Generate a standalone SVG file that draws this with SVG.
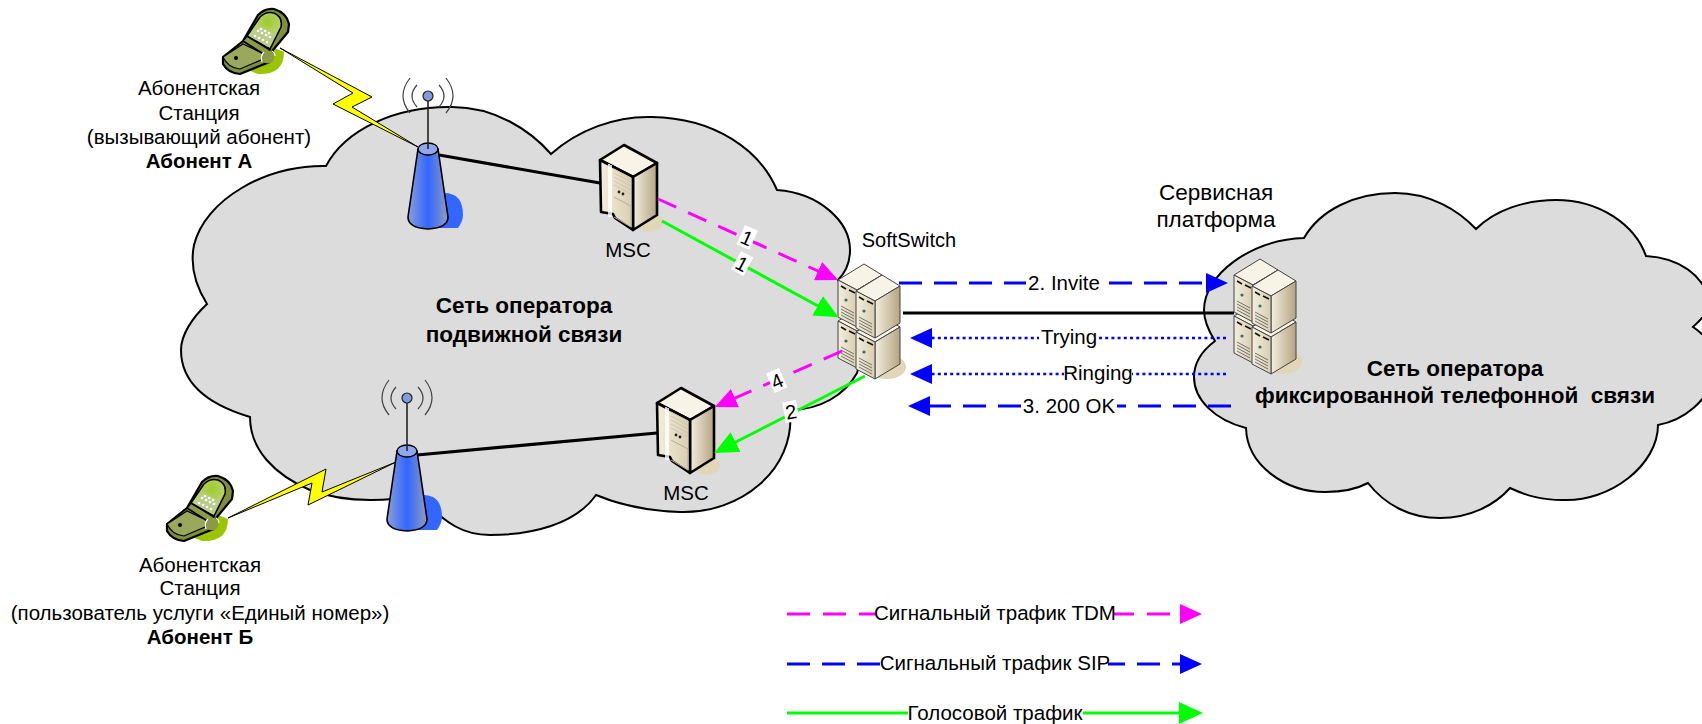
<svg xmlns="http://www.w3.org/2000/svg" width="1702" height="724" viewBox="0 0 1702 724">
<style>
text{font-family:"Liberation Sans",Arial,sans-serif;fill:#000;font-size:20.5px;text-anchor:middle;white-space:pre}
.b{font-weight:bold}
.t{font-size:22.5px}
.s{font-size:20px}
.cloud{fill:#dcdcdc;stroke:#000;stroke-width:2}
.wire{stroke:#000;stroke-width:3.2;fill:none}
.mag{stroke:#f0f;stroke-width:3;fill:none;stroke-dasharray:20 13}
.blu{stroke:#00f;stroke-width:3;fill:none;stroke-dasharray:23 12}
.dot{stroke:#00f;stroke-width:2.7;fill:none;stroke-dasharray:3 3.2}
.grn{stroke:#0f0;stroke-width:3;fill:none}
.bolt{fill:#ff0;stroke:#000;stroke-width:1}
.wave{fill:none;stroke:#444;stroke-width:1.2}
.srv{stroke:#000;stroke-width:2.6;stroke-linejoin:round}
.u{stroke:#444;stroke-width:1;stroke-linejoin:round}
.lbl{fill:#fff}
</style>
<defs>
<linearGradient id="twr" x1="0" x2="1" y1="0" y2="0"><stop offset="0" stop-color="#8a9fd8"/><stop offset=".5" stop-color="#3366ff"/><stop offset="1" stop-color="#8f9cc0"/></linearGradient>
<linearGradient id="sf" x1="0" x2="1" y1="0" y2="0"><stop offset="0" stop-color="#f4eedd"/><stop offset="1" stop-color="#d8cdb0"/></linearGradient>
<linearGradient id="sr" x1="0" x2="1" y1="0" y2="0"><stop offset="0" stop-color="#f3eee0"/><stop offset="1" stop-color="#b5a481"/></linearGradient>
<radialGradient id="scr" cx=".6" cy=".25" r=".55"><stop offset="0" stop-color="#9fcc2a"/><stop offset="1" stop-color="#bfd58a"/></radialGradient>
<marker id="am" markerUnits="userSpaceOnUse" markerWidth="22" markerHeight="20" refX="12" refY="10" orient="auto"><path d="M0,0L22,10L0,20Z" fill="#f0f"/></marker>
<marker id="ab" markerUnits="userSpaceOnUse" markerWidth="22" markerHeight="20" refX="12" refY="10" orient="auto"><path d="M0,0L22,10L0,20Z" fill="#00f"/></marker>
<marker id="ag" markerUnits="userSpaceOnUse" markerWidth="24" markerHeight="22" refX="13" refY="11" orient="auto"><path d="M0,0L24,11L0,22Z" fill="#0f0"/></marker>
<g id="phone">
<path d="M68,74Q94,75 94,52L84,48L58,70Z" fill="#9cc400"/>
<path d="M33,57L53,41L68,15Q75,8 84,9Q97,13 99,24L98,32L83,50L80,62L72,65L50,74Q38,73 33,64Z" fill="#7f8f3c" stroke="#000" stroke-width="2.2" stroke-linejoin="round"/>
<path d="M33,57L53,44L74,54L71,60L50,69Q38,68 33,57Z" fill="#9aa85c" stroke="#000" stroke-width="1.2"/>
<path d="M53,41L57,36L80,50L75,55Z" fill="#8c9a48" stroke="#000" stroke-width="1.6"/>
<path d="M57,36L70,17Q76,11 84,13Q93,17 91,27L80,49Z" fill="url(#scr)" stroke="#000" stroke-width="1.6"/>
<path d="M62,37L69,25L86,35L78,47Z" fill="#b9cc8a"/>
<g fill="#fff"><circle cx="68" cy="31" r="1.3"/><circle cx="72" cy="33" r="1.3"/><circle cx="76" cy="35" r="1.3"/><circle cx="80" cy="37" r="1.3"/><circle cx="65" cy="36" r="1.3"/><circle cx="69" cy="38" r="1.3"/><circle cx="73" cy="40" r="1.3"/><circle cx="77" cy="42" r="1.3"/><circle cx="71" cy="29" r="1.3"/><circle cx="75" cy="31" r="1.3"/><circle cx="79" cy="33" r="1.3"/></g>
<circle cx="46" cy="58" r="2" fill="#000"/>
<circle cx="78" cy="57" r="6.5" fill="#8c9a48"/>
<path d="M72,62Q70,56 74,52M82,51Q85,53 85,56" fill="none" stroke="#fff" stroke-width="1.2"/>
</g>
<g id="tower">
<path d="M16,44Q35,44 35,66Q35,72 30,79L10,79Z" fill="#3366ff"/>
<path d="M-10,0L-20,68Q-20,79 0,80Q20,79 20,68L10,0Z" fill="url(#twr)" stroke="#000" stroke-width="1.6"/>
<ellipse cx="0" cy="0" rx="10" ry="6" fill="#8fa8ec" stroke="#000" stroke-width="1.4"/>
<path d="M0,0V-48" stroke="#222" stroke-width="1.6"/>
<circle cx="0" cy="-53" r="5" fill="#7f9ce0" stroke="#222" stroke-width="1.2"/>
<path class="wave" d="M-18,-71Q-32,-53 -18,-36M-11,-64Q-21,-53 -11,-42M18,-71Q32,-53 18,-36M11,-64Q21,-53 11,-42"/>
</g>
<g id="msc">
<ellipse cx="26" cy="77" rx="13" ry="10" fill="#e2d6b8"/>
<path class="srv" d="M0,0L-24,15L9,32L33,18Z" fill="#f7f3e6"/>
<path class="srv" d="M9,32L33,18V70L9,85Z" fill="url(#sr)"/>
<path class="srv" d="M-24,15L9,32V85L-9,73L-11,69L-23,67Z" fill="url(#sf)"/>
<path d="M-15,19V72M-13,20V72" stroke="#fff" stroke-width="1.6"/>
<path d="M-10,24L7,33M-10,28L7,37M-10,32L7,41M-10,36L7,45M-10,40L7,49" stroke="#cfc6ae" stroke-width="1"/>
<path d="M-10,52L7,61V82L-10,72" fill="none" stroke="#b9ad90" stroke-width="1"/>
<circle cx="-5" cy="47" r="1.4" fill="#222"/><circle cx="-1" cy="49" r="1.4" fill="#222"/>
</g>
<g id="unit">
<path class="u" d="M26,0L0,16L19,26L44,11Z" fill="#f7f3e6"/>
<path class="u" d="M19,26L44,11V48L19,63Z" fill="url(#sr)"/>
<path class="u" d="M0,16L19,26V63L0,53Z" fill="url(#sf)"/>
<path d="M3,22L8,25M11,26L17,29" stroke="#111" stroke-width="1.6"/>
<path d="M3,42L16,49M3,45L16,52M3,48L16,55M3,51L16,58" stroke="#555" stroke-width=".8"/>
<circle cx="8" cy="36" r="1.6" fill="#2f6f6f"/>
</g>
<g id="stack">
<ellipse cx="49" cy="103" rx="19" ry="12" fill="#e2d6b8"/>
<use href="#unit" x="0" y="41"/>
<use href="#unit" x="18" y="52"/>
<use href="#unit" x="0" y="0"/>
<use href="#unit" x="18" y="11"/>
</g>
</defs>
<rect width="1702" height="724" fill="#fff"/>
<g id="cloud-mobile">
<path class="cloud" d="M326,166C345,130 395,106 452,107C495,107 530,130 551,154C578,130 615,116 652,117C715,118 760,150 777,190C820,193 850,222 850,250C850,262 846,272 838,280C860,310 865,350 857,373C845,395 820,410 790,410C796,470 740,514 680,512C650,511 620,505 596,495C575,525 530,535 490,535C465,535 445,525 420,495C395,500 350,505 310,490C275,475 250,450 250,417C210,405 181,385 181,350C181,335 192,318 207,304C195,285 190,265 194,245C205,200 265,165 326,166Z"/>
</g>
<g id="cloud-fixed">
<path class="cloud" d="M1304,238C1320,210 1355,193 1395,193C1430,193 1458,210 1476,229C1495,210 1525,200 1556,200C1600,200 1635,225 1646,256C1680,258 1702,275 1710,300C1712,310 1700,320 1693,327C1705,335 1720,350 1715,375C1708,400 1685,420 1658,425C1658,465 1610,502 1563,500C1540,500 1525,495 1510,488C1495,505 1470,518 1440,518C1410,518 1385,505 1368,483C1355,490 1340,492 1325,492C1285,492 1247,465 1246,428C1215,420 1194,400 1194,377C1194,362 1203,350 1215,341C1208,330 1204,320 1204,310C1204,275 1250,240 1304,238Z"/>
</g>
<g id="phone-a"><use href="#phone" x="190" y="0"/></g>
<g id="phone-b"><use href="#phone" x="134" y="467"/></g>
<g id="tower-a"><use href="#tower" x="428" y="149"/></g>
<g id="tower-b"><use href="#tower" x="407" y="451"/></g>
<g id="msc-1"><use href="#msc" x="624" y="145"/><text x="628" y="257">MSC</text></g>
<g id="msc-2"><use href="#msc" x="681" y="388"/><text x="686" y="500">MSC</text></g>
<g id="softswitch"><use href="#stack" x="838" y="264"/><text x="902" y="247" style="font-size:20px" dx="7">SoftSwitch</text></g>
<g id="service-platform"><use href="#stack" x="1234" y="259"/><text class="t" x="1216" y="200">Сервисная</text><text class="t" x="1216" y="227">платформа</text></g>
<g id="connectors">
<path class="bolt" d="M280,48L372,97L352,107L418,147L333,104L353,93Z"/>
<path class="bolt" d="M228,518L326,469L322,492L396,462L308,505L312,483Z"/>
<path class="wire" d="M439,155L600,183"/>
<path class="wire" d="M417,455L657,433"/>
<path class="wire" d="M903,313H1234"/>
<path class="mag" d="M658,199L829,276" marker-end="url(#am)"/>
<path class="grn" d="M662,221L829,312" marker-end="url(#ag)"/>
<path class="mag" d="M842,351L724,403" marker-end="url(#am)"/>
<path class="grn" d="M865,376L724,448" marker-end="url(#ag)"/>
<path class="blu" d="M899,283H1218" marker-end="url(#ab)"/>
<path class="dot" d="M1226,338H920" marker-end="url(#ab)"/>
<path class="dot" d="M1226,374H920" marker-end="url(#ab)"/>
<path class="blu" d="M1231,406H918" marker-end="url(#ab)"/>
<g transform="translate(747,238) rotate(24)"><rect class="lbl" x="-7" y="-11" width="14" height="21"/><text class="s" y="7">1</text></g>
<g transform="translate(742,264) rotate(28)"><rect class="lbl" x="-7" y="-11" width="14" height="21"/><text class="s" y="7">1</text></g>
<g transform="translate(777,381) rotate(-24)"><rect class="lbl" x="-7" y="-11" width="14" height="21"/><text class="s" y="7">4</text></g>
<g transform="translate(791,412) rotate(-10)"><rect class="lbl" x="-7" y="-11" width="14" height="21"/><text class="s" y="7">2</text></g>
<rect class="lbl" x="1026" y="272" width="76" height="21"/><text x="1064" y="290">2. Invite</text>
<rect class="lbl" x="1039" y="327" width="60" height="21"/><text x="1069" y="344">Trying</text>
<rect class="lbl" x="1064" y="363" width="68" height="21"/><text x="1098" y="380">Ringing</text>
<rect class="lbl" x="1021" y="395" width="96" height="21"/><text x="1069" y="413">3. 200 OK</text>
</g>
<g id="label-a"><text x="199" y="95">Абонентская</text><text x="199" y="120">Станция</text><text x="199" y="144">(вызывающий абонент)</text><text class="b" x="199" y="168">Абонент А</text></g>
<g id="label-b"><text x="200" y="572">Абонентская</text><text x="200" y="595">Станция</text><text x="200" y="620">(пользователь услуги «Единый номер»)</text><text class="b" x="200" y="644">Абонент Б</text></g>
<g id="net-mobile"><text class="b t" x="524" y="313">Сеть оператора</text><text class="b t" x="524" y="342">подвижной связи</text></g>
<g id="net-fixed"><text class="b t" x="1455" y="376">Сеть оператора</text><text class="b t" x="1455" y="403">фиксированной телефонной  связи</text></g>
<g id="legend">
<path class="mag" d="M787,614H1192" marker-end="url(#am)" style="stroke-dasharray:23 13"/>
<path class="blu" d="M787,664H1192" marker-end="url(#ab)"/>
<path class="grn" d="M787,713H1192" marker-end="url(#ag)"/>
<rect class="lbl" x="877" y="602" width="237" height="24"/><text x="995" y="620">Сигнальный трафик TDM</text>
<rect class="lbl" x="881" y="652" width="227" height="24"/><text x="995" y="670">Сигнальный трафик SIP</text>
<rect class="lbl" x="908" y="701" width="175" height="24"/><text x="995" y="720">Голосовой трафик</text>
</g>
</svg>
